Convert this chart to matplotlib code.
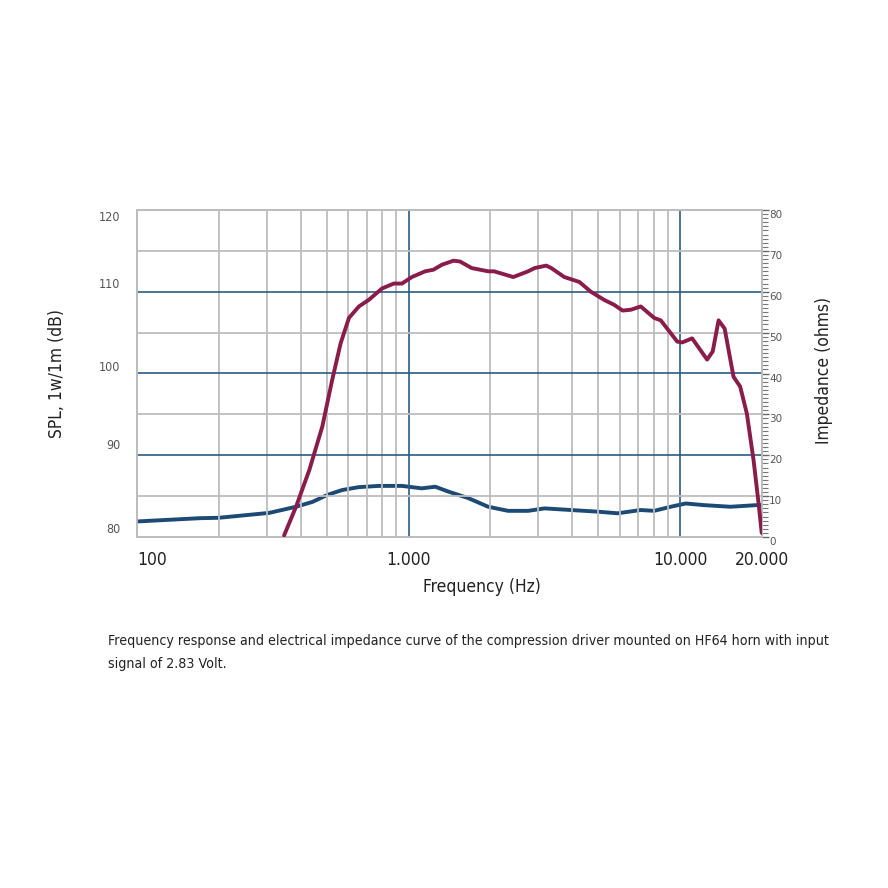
import matplotlib
matplotlib.use("Agg")
import matplotlib.pyplot as plt
import matplotlib.transforms as mtransforms
from matplotlib.ticker import FixedLocator, NullFormatter, MultipleLocator

# --- DATA ---
spl_freq = [348, 385, 431, 481, 523, 562, 603, 656, 713, 798, 881, 945, 1028, 1151,
            1235, 1325, 1463, 1546, 1706, 1963, 2063, 2427, 2754, 2911, 3211, 3350,
            3743, 4253, 4689, 5250, 5711, 6133, 6580, 7157, 8015, 8478, 9752, 10170,
            11060, 12560, 13170, 13840, 14570, 15710, 16620, 17590, 18620, 19430, 19950]
spl_db = [80.2, 83.7, 88.2, 93.5, 99.2, 103.7, 106.8, 108.2, 109.0, 110.4, 111.0, 111.0,
          111.8, 112.5, 112.7, 113.3, 113.8, 113.7, 112.9, 112.5, 112.5, 111.8, 112.5,
          112.9, 113.2, 112.9, 111.8, 111.2, 110.0, 109.0, 108.4, 107.7, 107.8, 108.2,
          106.8, 106.5, 103.9, 103.8, 104.3, 101.7, 102.7, 106.5, 105.5, 99.6, 98.4,
          95.1, 89.4, 84.1, 80.5]

imp_freq = [100, 170, 200, 307, 385, 443, 502, 570, 656, 776, 945, 1000, 1118, 1253,
            1402, 1660, 1963, 2325, 2754, 3165, 3960, 4966, 5878, 7157, 8015, 9226,
            10480, 12230, 15300, 19140, 20000]
imp_ohm = [3.8, 4.6, 4.7, 5.9, 7.4, 8.6, 10.3, 11.5, 12.2, 12.5, 12.5, 12.3, 11.9, 12.3,
           11.1, 9.5, 7.4, 6.4, 6.4, 7.0, 6.6, 6.2, 5.8, 6.6, 6.4, 7.4, 8.2, 7.8, 7.4,
           7.8, 7.8]

x_ticks = [100, 1000, 10000, 20000]
x_tick_labels = ["100", "1.000", "10.000", "20.000"]
spl_ticks = [80, 90, 100, 110, 120]
imp_ticks = [0, 10, 20, 30, 40, 50, 60, 70, 80]

caption = ("Frequency response and electrical impedance curve of the compression driver "
           "mounted on HF64 horn with input\nsignal of 2.83 Volt.")

# --- STYLE ---
cond = dict(fontfamily="DejaVu Sans", fontstretch="condensed")
red = "#8a1c4b"
blue = "#1c4a74"
grid_gray = "#bdbdbd"
grid_blue = "#2e5b82"

fig = plt.figure(figsize=(8.88, 8.88), dpi=100)
ax = fig.add_axes([137 / 888, 1 - 537 / 888, 625 / 888, 327 / 888])
ax.set_xscale("log")
ax.set_xlim(100, 20000)
ax.set_ylim(80, 120)

# grid: gray minor lines, blue decade / 10 dB lines
for f in [200, 300, 400, 500, 600, 700, 800, 900,
          2000, 3000, 4000, 5000, 6000, 7000, 8000, 9000]:
    ax.axvline(f, color=grid_gray, lw=1.3, zorder=1)
for f in [1000, 10000]:
    ax.axvline(f, color=grid_blue, lw=1.2, zorder=1)
for v in [85, 95, 105, 115]:
    ax.axhline(v, color=grid_gray, lw=1.3, zorder=1)
for v in [90, 100, 110]:
    ax.axhline(v, color=grid_blue, lw=1.2, zorder=1)

for s in ax.spines.values():
    s.set_color(grid_gray)
    s.set_linewidth(1.3)

ax.plot(spl_freq, spl_db, color=red, lw=2.8, zorder=4,
        solid_capstyle="round", solid_joinstyle="round")

ax.xaxis.set_major_locator(FixedLocator(x_ticks))
ax.set_xticklabels(x_tick_labels, fontsize=12.5, color="#222222", **cond)
ax.get_xticklabels()[0].set_horizontalalignment("left")
ax.xaxis.set_minor_formatter(NullFormatter())
ax.tick_params(axis="x", which="both", length=0, pad=10)

ax.set_yticks(spl_ticks)
ax.set_yticklabels([str(t) for t in spl_ticks], fontsize=9, color="#555555", **cond)
ax.tick_params(axis="y", length=0, pad=12)
# the printed labels sit a little off their grid lines
for lab, dy in zip(ax.get_yticklabels(), [9, 11, 7, 9, -6]):
    lab.set_transform(lab.get_transform()
                      + mtransforms.ScaledTranslation(0, dy / 100, fig.dpi_scale_trans))

ax.set_xlabel("Frequency (Hz)", fontsize=12.5, color="#222222", **cond)
ax.xaxis.set_label_coords(0.552, -0.125)
ax.set_ylabel("SPL, 1w/1m (dB)", fontsize=12.5, color="#222222", **cond)
ax.yaxis.set_label_coords(-0.113, 0.5)

ax2 = ax.twinx()
ax2.set_ylim(0, 80)
ax2.plot(imp_freq, imp_ohm, color=blue, lw=2.8, zorder=3,
         solid_capstyle="round", solid_joinstyle="round")
ax2.set_yticks(imp_ticks)
ax2.yaxis.set_minor_locator(MultipleLocator(1))
ax2.tick_params(axis="y", which="major", length=5, width=1, color="#666666",
                labelsize=7.5, labelcolor="#555555", pad=0)
ax2.tick_params(axis="y", which="minor", length=4, width=0.8, color="#777777")
for lab in ax2.get_yticklabels():
    lab.set_transform(lab.get_transform()
                      + mtransforms.ScaledTranslation(0, -4 / 100, fig.dpi_scale_trans))
ax2.set_ylabel("Impedance (ohms)", fontsize=12.5, color="#222222", **cond)
ax2.yaxis.set_label_coords(1.085, 0.51)
for s in ax2.spines.values():
    s.set_color(grid_gray)
    s.set_linewidth(1.3)
ax.set_zorder(ax2.get_zorder() + 1)
ax.patch.set_visible(False)

cap = fig.text(108 / 888, 1 - 634 / 888, caption, fontsize=13, color="#222222",
               va="top", ha="left", linespacing=1.8, **cond)

# shrink the caption until it fits between x=108 and x=830
fig.canvas.draw()
renderer = fig.canvas.get_renderer()
while cap.get_window_extent(renderer).x1 > 830 and cap.get_fontsize() > 6:
    cap.set_fontsize(cap.get_fontsize() - 0.1)

fig.savefig("out.png", dpi=100)
